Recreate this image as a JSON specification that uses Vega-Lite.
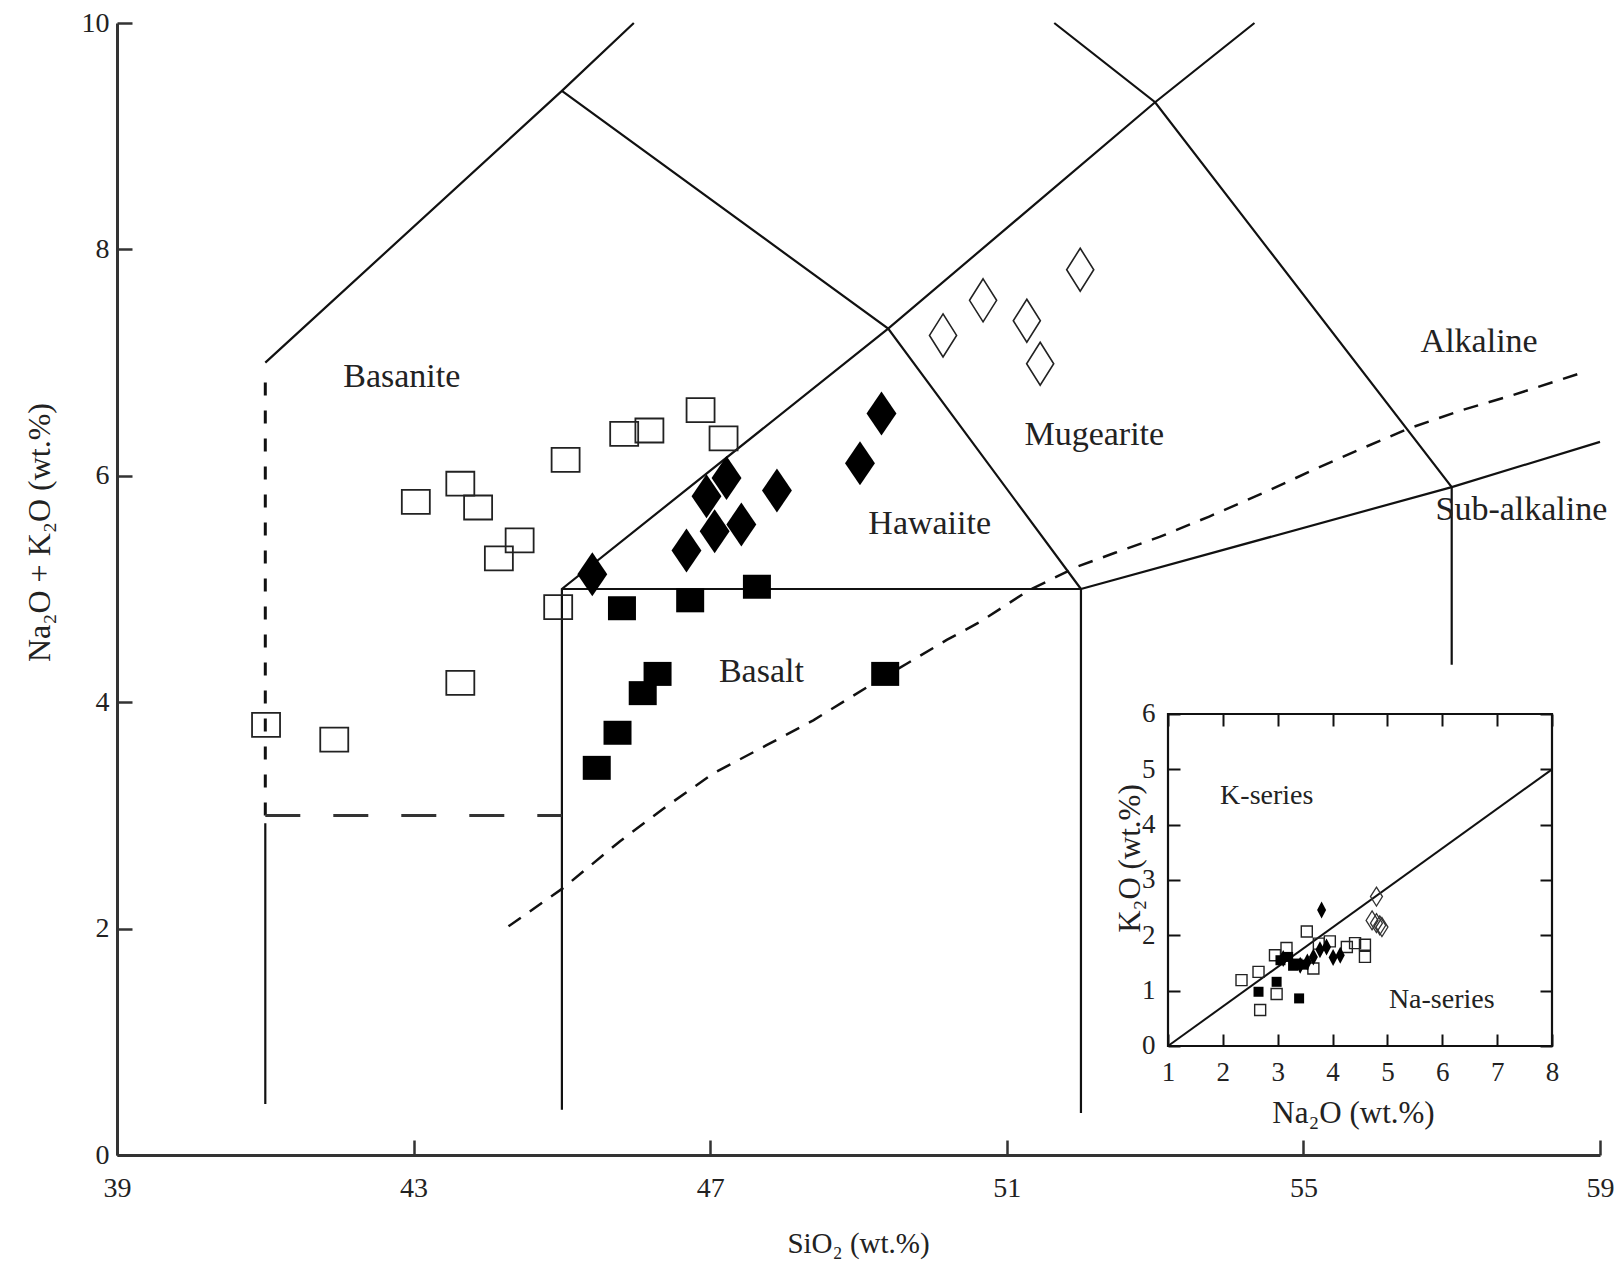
{
  "$schema": "https://vega.github.io/schema/vega-lite/v6.json",
  "width": 1483,
  "height": 1132,
  "autosize": "none",
  "padding": {"left": 117, "top": 23, "right": 21, "bottom": 111},
  "background": "white",
  "config": {
    "view": {"stroke": null},
    "axis": {"grid": false, "labelFont": "Liberation Serif", "titleFont": "Liberation Serif", "labelColor": "#222", "titleColor": "#222", "titleFontWeight": "normal", "domainColor": "#333", "tickColor": "#333", "labelFontSize": 28, "titleFontSize": 29, "labelFlush": false, "labelOverlap": false, "labelBound": false},
    "text": {"font": "Liberation Serif", "fontSize": 34, "color": "#222"}
  },
  "datasets": {
    "solid": [
      {"seg": "s1", "i": 0, "x": 41, "y": 7}, {"seg": "s1", "i": 1, "x": 45, "y": 9.4}, {"seg": "s1", "i": 2, "x": 45.97, "y": 10},
      {"seg": "s2", "i": 0, "x": 45, "y": 9.4}, {"seg": "s2", "i": 1, "x": 49.4, "y": 7.3}, {"seg": "s2", "i": 2, "x": 52, "y": 5},
      {"seg": "s3", "i": 0, "x": 45, "y": 0.4}, {"seg": "s3", "i": 1, "x": 45, "y": 5}, {"seg": "s3", "i": 2, "x": 49.4, "y": 7.3}, {"seg": "s3", "i": 3, "x": 53, "y": 9.3}, {"seg": "s3", "i": 4, "x": 54.34, "y": 10},
      {"seg": "s4", "i": 0, "x": 45, "y": 5}, {"seg": "s4", "i": 1, "x": 52, "y": 5}, {"seg": "s4", "i": 2, "x": 52, "y": 0.37},
      {"seg": "s5", "i": 0, "x": 51.64, "y": 10}, {"seg": "s5", "i": 1, "x": 53, "y": 9.3}, {"seg": "s5", "i": 2, "x": 57, "y": 5.9}, {"seg": "s5", "i": 3, "x": 57, "y": 4.33},
      {"seg": "s6", "i": 0, "x": 52, "y": 5}, {"seg": "s6", "i": 1, "x": 57, "y": 5.9}, {"seg": "s6", "i": 2, "x": 59, "y": 6.3},
      {"seg": "s7", "i": 0, "x": 41, "y": 0.45}, {"seg": "s7", "i": 1, "x": 41, "y": 2.93}
    ],
    "shortdash": [{"i": 0, "x": 41, "y": 3.0}, {"i": 1, "x": 41, "y": 6.95}],
    "longdash": [{"i": 0, "x": 41, "y": 3.0}, {"i": 1, "x": 45, "y": 3.0}],
    "alkaline": [
      {"i": 0, "x": 44.28, "y": 2.02}, {"i": 1, "x": 45.02, "y": 2.36}, {"i": 2, "x": 45.78, "y": 2.77}, {"i": 3, "x": 46.41, "y": 3.08},
      {"i": 4, "x": 47.04, "y": 3.37}, {"i": 5, "x": 47.76, "y": 3.62}, {"i": 6, "x": 48.39, "y": 3.84}, {"i": 7, "x": 49.16, "y": 4.15},
      {"i": 8, "x": 49.65, "y": 4.34}, {"i": 9, "x": 50.19, "y": 4.55}, {"i": 10, "x": 50.64, "y": 4.71}, {"i": 11, "x": 51.3, "y": 4.99},
      {"i": 12, "x": 51.96, "y": 5.2}, {"i": 13, "x": 52.46, "y": 5.32}, {"i": 14, "x": 53.06, "y": 5.46}, {"i": 15, "x": 53.73, "y": 5.64},
      {"i": 16, "x": 54.5, "y": 5.86}, {"i": 17, "x": 55.16, "y": 6.06}, {"i": 18, "x": 55.82, "y": 6.25}, {"i": 19, "x": 56.43, "y": 6.42},
      {"i": 20, "x": 57.14, "y": 6.58}, {"i": 21, "x": 57.81, "y": 6.71}, {"i": 22, "x": 58.8, "y": 6.92}
    ],
    "tas": [
      {"g": "open_sq", "x": 41.01, "y": 3.8}, {"g": "open_sq", "x": 41.93, "y": 3.67}, {"g": "open_sq", "x": 43.03, "y": 5.77}, {"g": "open_sq", "x": 43.63, "y": 5.93},
      {"g": "open_sq", "x": 43.87, "y": 5.72}, {"g": "open_sq", "x": 44.43, "y": 5.43}, {"g": "open_sq", "x": 44.15, "y": 5.27}, {"g": "open_sq", "x": 43.63, "y": 4.17},
      {"g": "open_sq", "x": 44.95, "y": 4.84}, {"g": "open_sq", "x": 45.05, "y": 6.14}, {"g": "open_sq", "x": 45.84, "y": 6.37}, {"g": "open_sq", "x": 46.18, "y": 6.4},
      {"g": "open_sq", "x": 46.87, "y": 6.58}, {"g": "open_sq", "x": 47.18, "y": 6.33},
      {"g": "filled_sq", "x": 45.47, "y": 3.42}, {"g": "filled_sq", "x": 45.75, "y": 3.73}, {"g": "filled_sq", "x": 46.09, "y": 4.08}, {"g": "filled_sq", "x": 46.29, "y": 4.25},
      {"g": "filled_sq", "x": 45.81, "y": 4.83}, {"g": "filled_sq", "x": 46.73, "y": 4.9}, {"g": "filled_sq", "x": 47.63, "y": 5.02}, {"g": "filled_sq", "x": 49.36, "y": 4.25},
      {"g": "filled_dia", "x": 45.41, "y": 5.13}, {"g": "filled_dia", "x": 46.68, "y": 5.34}, {"g": "filled_dia", "x": 47.06, "y": 5.51}, {"g": "filled_dia", "x": 47.42, "y": 5.57},
      {"g": "filled_dia", "x": 46.95, "y": 5.82}, {"g": "filled_dia", "x": 47.22, "y": 5.98}, {"g": "filled_dia", "x": 47.9, "y": 5.87}, {"g": "filled_dia", "x": 49.02, "y": 6.11},
      {"g": "filled_dia", "x": 49.31, "y": 6.55},
      {"g": "open_dia", "x": 50.14, "y": 7.24}, {"g": "open_dia", "x": 50.68, "y": 7.55}, {"g": "open_dia", "x": 51.27, "y": 7.37}, {"g": "open_dia", "x": 51.45, "y": 6.99},
      {"g": "open_dia", "x": 51.99, "y": 7.82}
    ],
    "labels": [
      {"x": 42.84, "y": 6.87, "t": "Basanite"}, {"x": 49.96, "y": 5.57, "t": "Hawaiite"}, {"x": 47.69, "y": 4.27, "t": "Basalt"},
      {"x": 52.18, "y": 6.36, "t": "Mugearite"}, {"x": 57.37, "y": 7.18, "t": "Alkaline"}, {"x": 57.94, "y": 5.7, "t": "Sub-alkaline"}
    ],
    "insetbox": [{"x": 1, "y": 0, "x2": 8, "y2": 6}],
    "insetline": [{"i": 0, "x": 1, "y": 0}, {"i": 1, "x": 8, "y": 5}],
    "inset": [
      {"g": "open_sq", "x": 2.34, "y": 1.19}, {"g": "open_sq", "x": 2.65, "y": 1.34}, {"g": "open_sq", "x": 2.68, "y": 0.65}, {"g": "open_sq", "x": 2.98, "y": 0.94},
      {"g": "open_sq", "x": 2.95, "y": 1.64}, {"g": "open_sq", "x": 3.16, "y": 1.77}, {"g": "open_sq", "x": 3.53, "y": 2.07}, {"g": "open_sq", "x": 3.65, "y": 1.4},
      {"g": "open_sq", "x": 3.95, "y": 1.89}, {"g": "open_sq", "x": 4.26, "y": 1.79}, {"g": "open_sq", "x": 4.41, "y": 1.86}, {"g": "open_sq", "x": 4.59, "y": 1.83},
      {"g": "open_sq", "x": 4.59, "y": 1.61}, {"g": "open_sq", "x": 3.75, "y": 1.85},
      {"g": "filled_sq", "x": 2.65, "y": 0.98}, {"g": "filled_sq", "x": 2.98, "y": 1.16}, {"g": "filled_sq", "x": 3.39, "y": 0.86}, {"g": "filled_sq", "x": 3.19, "y": 1.61},
      {"g": "filled_sq", "x": 3.36, "y": 1.49}, {"g": "filled_sq", "x": 3.05, "y": 1.55}, {"g": "filled_sq", "x": 3.28, "y": 1.45}, {"g": "filled_sq", "x": 3.47, "y": 1.47},
      {"g": "filled_dia", "x": 3.8, "y": 2.46}, {"g": "filled_dia", "x": 3.1, "y": 1.58}, {"g": "filled_dia", "x": 3.41, "y": 1.46}, {"g": "filled_dia", "x": 3.54, "y": 1.52},
      {"g": "filled_dia", "x": 3.65, "y": 1.61}, {"g": "filled_dia", "x": 3.77, "y": 1.74}, {"g": "filled_dia", "x": 3.89, "y": 1.79}, {"g": "filled_dia", "x": 4.01, "y": 1.6},
      {"g": "filled_dia", "x": 4.14, "y": 1.64},
      {"g": "open_dia", "x": 4.8, "y": 2.7}, {"g": "open_dia", "x": 4.72, "y": 2.27}, {"g": "open_dia", "x": 4.8, "y": 2.22}, {"g": "open_dia", "x": 4.86, "y": 2.18},
      {"g": "open_dia", "x": 4.9, "y": 2.15}
    ],
    "insetlabels": [{"x": 2.8, "y": 4.51, "t": "K-series"}, {"x": 5.99, "y": 0.83, "t": "Na-series"}]
  },
  "resolve": {"scale": {"x": "independent", "y": "independent"}, "axis": {"x": "independent", "y": "independent"}},
  "layer": [
    {
      "encoding": {
        "x": {"field": "x", "type": "quantitative", "scale": {"domain": [39, 59], "nice": false, "zero": false},
          "axis": {"orient": "bottom", "values": [39, 43, 47, 51, 55, 59], "tickSize": -15, "tickWidth": 2.5, "domainWidth": 3, "labelPadding": 34, "zindex": 1,
            "title": "SiO₂ (wt.%)", "titleX": 741, "titleY": 88, "titleAlign": "center", "titleBaseline": "middle"}},
        "y": {"field": "y", "type": "quantitative", "scale": {"domain": [0, 10], "nice": false, "zero": false},
          "axis": {"orient": "left", "values": [0, 2, 4, 6, 8, 10], "tickSize": -15, "tickWidth": 2.5, "domainWidth": 3, "labelPadding": 23, "zindex": 1,
            "title": "Na₂O + K₂O (wt.%)", "titleX": -78, "titleY": 509, "titleAlign": "center", "titleBaseline": "middle", "titleAngle": 270, "titleFontSize": 32}}
      },
      "layer": [
        {"data": {"name": "solid"}, "mark": {"type": "line", "stroke": "#111", "strokeWidth": 2.2}, "encoding": {"detail": {"field": "seg", "type": "nominal"}, "order": {"field": "i", "type": "quantitative"}}},
        {"data": {"name": "shortdash"}, "mark": {"type": "line", "stroke": "#111", "strokeWidth": 3, "strokeDash": [13, 15]}, "encoding": {"order": {"field": "i", "type": "quantitative"}}},
        {"data": {"name": "longdash"}, "mark": {"type": "line", "stroke": "#333", "strokeWidth": 3, "strokeDash": [35, 33]}, "encoding": {"order": {"field": "i", "type": "quantitative"}}},
        {"data": {"name": "alkaline"}, "mark": {"type": "line", "stroke": "#111", "strokeWidth": 2.5, "strokeDash": [15, 11]}, "encoding": {"order": {"field": "i", "type": "quantitative"}}},
        {"data": {"name": "tas"}, "transform": [{"filter": "datum.g === 'open_sq'"}], "mark": {"type": "point", "shape": "M-1,-0.857L1,-0.857L1,0.857L-1,0.857Z", "size": 784, "filled": false, "stroke": "#222", "strokeWidth": 1.8, "opacity": 1}},
        {"data": {"name": "tas"}, "transform": [{"filter": "datum.g === 'filled_sq'"}], "mark": {"type": "point", "shape": "M-1,-0.857L1,-0.857L1,0.857L-1,0.857Z", "size": 784, "filled": true, "fill": "#000", "opacity": 1}},
        {"data": {"name": "tas"}, "transform": [{"filter": "datum.g === 'filled_dia'"}], "mark": {"type": "point", "shape": "M0,-1L0.68,0L0,1L-0.68,0Z", "size": 1936, "filled": true, "fill": "#000", "opacity": 1}},
        {"data": {"name": "tas"}, "transform": [{"filter": "datum.g === 'open_dia'"}], "mark": {"type": "point", "shape": "M0,-1L0.63,0L0,1L-0.63,0Z", "size": 1849, "filled": false, "stroke": "#222", "strokeWidth": 1.6, "opacity": 1}},
        {"data": {"name": "labels"}, "mark": {"type": "text", "align": "center", "baseline": "middle", "fontSize": 34}, "encoding": {"text": {"field": "t"}}}
      ]
    },
    {
      "encoding": {
        "x": {"field": "x", "type": "quantitative", "scale": {"domain": [-18.159, 8.875], "nice": false, "zero": false},
          "axis": {"orient": "bottom", "offset": -109, "values": [1, 2, 3, 4, 5, 6, 7, 8], "domain": false, "tickSize": -12, "tickWidth": 2, "tickColor": "#111", "labelPadding": 25, "labelFontSize": 27, "zindex": 1,
            "title": "Na₂O (wt.%)", "titleX": 1236, "titleY": 67, "titleAlign": "center", "titleBaseline": "middle", "titleFontSize": 31}},
        "y": {"field": "y", "type": "quantitative", "scale": {"domain": [-1.97, 18.488], "nice": false, "zero": false},
          "axis": {"orient": "left", "offset": -1051, "values": [0, 1, 2, 3, 4, 5, 6], "domain": false, "tickSize": -12, "tickWidth": 2, "tickColor": "#111", "labelPadding": 25, "labelFontSize": 27, "zindex": 1,
            "title": "K₂O (wt.%)", "titleX": -38, "titleY": 835, "titleAlign": "center", "titleBaseline": "middle", "titleAngle": 270, "titleFontSize": 31}}
      },
      "layer": [
        {"data": {"name": "insetbox"}, "mark": {"type": "rect", "fill": "white", "stroke": null}, "encoding": {"x2": {"field": "x2"}, "y2": {"field": "y2"}}},
        {"data": {"name": "insetline"}, "mark": {"type": "line", "stroke": "#111", "strokeWidth": 2}, "encoding": {"order": {"field": "i", "type": "quantitative"}}},
        {"data": {"name": "inset"}, "transform": [{"filter": "datum.g === 'open_sq'"}], "mark": {"type": "point", "shape": "M-1,-1L1,-1L1,1L-1,1Z", "size": 121, "filled": false, "stroke": "#222", "strokeWidth": 1.4, "opacity": 1}},
        {"data": {"name": "inset"}, "transform": [{"filter": "datum.g === 'filled_sq'"}], "mark": {"type": "point", "shape": "M-1,-1L1,-1L1,1L-1,1Z", "size": 100, "filled": true, "fill": "#000", "opacity": 1}},
        {"data": {"name": "inset"}, "transform": [{"filter": "datum.g === 'filled_dia'"}], "mark": {"type": "point", "shape": "M0,-1L0.53,0L0,1L-0.53,0Z", "size": 289, "filled": true, "fill": "#000", "opacity": 1}},
        {"data": {"name": "inset"}, "transform": [{"filter": "datum.g === 'open_dia'"}], "mark": {"type": "point", "shape": "M0,-1L0.63,0L0,1L-0.63,0Z", "size": 361, "filled": false, "stroke": "#333", "strokeWidth": 1.3, "opacity": 1}},
        {"data": {"name": "insetlabels"}, "mark": {"type": "text", "align": "center", "baseline": "middle", "fontSize": 28}, "encoding": {"text": {"field": "t"}}}
      ]
    },
    {
      "encoding": {
        "x": {"field": "x", "type": "quantitative", "scale": {"domain": [-18.159, 8.875], "nice": false, "zero": false},
          "axis": {"orient": "top", "offset": -691, "values": [1, 2, 3, 4, 5, 6, 7, 8], "domain": false, "labels": false, "title": null, "tickSize": -12, "tickWidth": 2, "tickColor": "#111", "zindex": 1}},
        "y": {"field": "y", "type": "quantitative", "scale": {"domain": [-1.97, 18.488], "nice": false, "zero": false},
          "axis": {"orient": "right", "offset": -48, "values": [0, 1, 2, 3, 4, 5, 6], "domain": false, "labels": false, "title": null, "tickSize": -12, "tickWidth": 2, "tickColor": "#111", "zindex": 1}}
      },
      "layer": [
        {"data": {"name": "insetbox"}, "mark": {"type": "rect", "fill": null, "fillOpacity": 0, "stroke": "#111", "strokeWidth": 2.2}, "encoding": {"x2": {"field": "x2"}, "y2": {"field": "y2"}}}
      ]
    }
  ]
}
